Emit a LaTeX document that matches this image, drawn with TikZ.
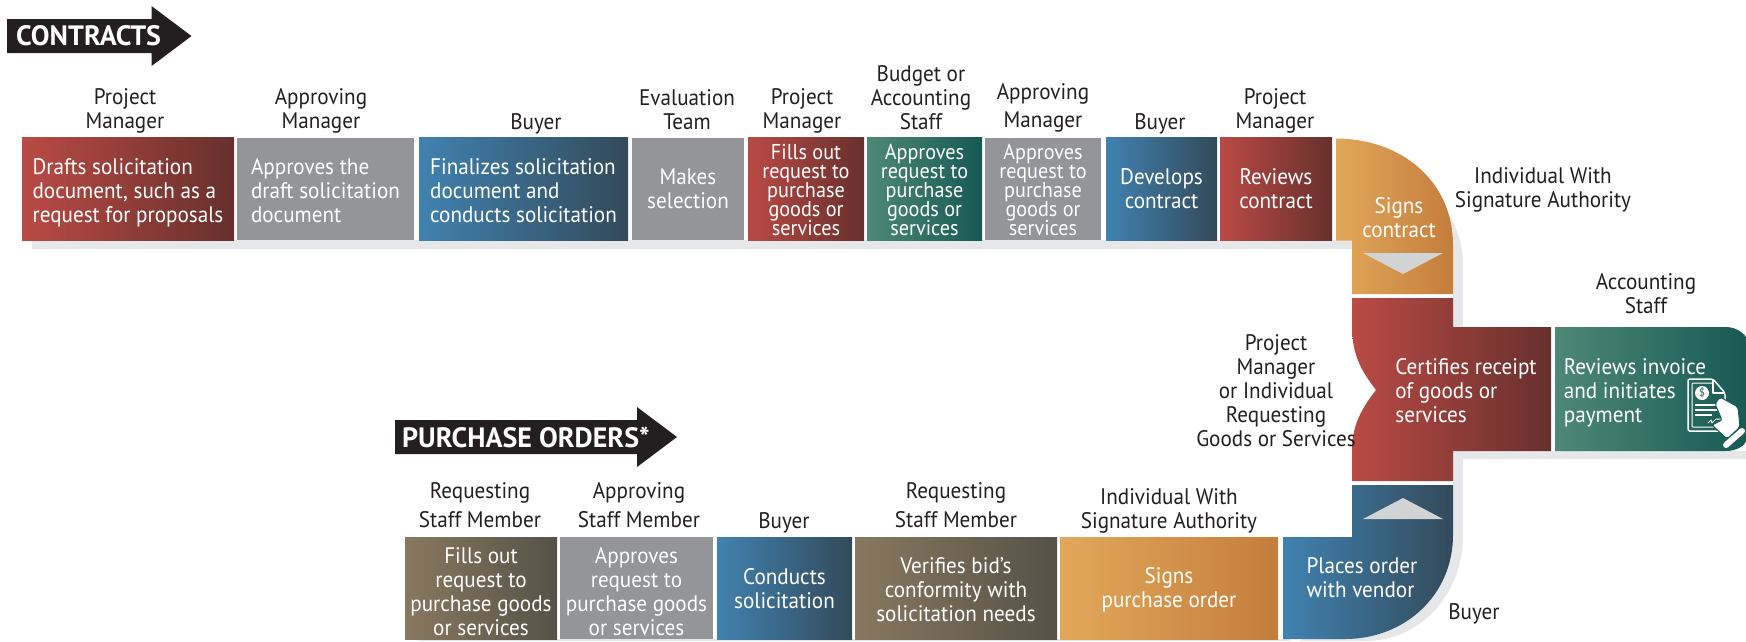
\documentclass[tikz,border=0pt]{standalone}
\usepackage{fontspec}
\setmainfont[FakeStretch=0.94]{PT Sans}
\newfontfamily\headfont{PT Sans}
\newcommand{\closelines}{\setlength{\lineskiplimit}{-20pt}}
\definecolor{redleft}{RGB}{186,74,69}
\definecolor{redright}{RGB}{103,48,44}
\definecolor{blueleft}{RGB}{64,130,176}
\definecolor{blueright}{RGB}{51,74,90}
\definecolor{tealleft}{RGB}{78,136,118}
\definecolor{tealright}{RGB}{22,90,84}
\definecolor{orangeleft}{RGB}{226,168,90}
\definecolor{orangeright}{RGB}{196,125,60}
\definecolor{brownleft}{RGB}{137,120,96}
\definecolor{brownright}{RGB}{85,82,70}
\definecolor{flatgrey}{RGB}{147,149,152}
\definecolor{shadowgrey}{RGB}{230,231,232}
\definecolor{markgrey}{RGB}{209,211,212}
\definecolor{inkblack}{RGB}{35,31,32}
\tikzset{
    stepbase/.style={rectangle, inner sep=0pt},
    redstep/.style={stepbase, left color=redleft, right color=redright},
    bluestep/.style={stepbase, left color=blueleft, right color=blueright},
    tealstep/.style={stepbase, left color=tealleft, right color=tealright},
    orangestep/.style={stepbase, left color=orangeleft, right color=orangeright},
    brownstep/.style={stepbase, left color=brownleft, right color=brownright},
    greystep/.style={stepbase, fill=flatgrey},
    who/.style={text=inkblack, align=center, inner sep=0pt, font=\fontsize{22.5}{24}\selectfont},
    title/.style={text=white, inner sep=0pt, anchor=west, font=\fontsize{28}{30}\selectfont\headfont\bfseries},
    steptext/.style={text=white, inner sep=0pt, align=center, font=\fontsize{22.5}{24}\selectfont},
    tightlines/.style={font=\fontsize{21.5}{18.9}\selectfont\closelines}
}
\begin{document}
\begin{tikzpicture}[x=1pt, y=-1pt]
    \useasboundingbox (0,0) rectangle (1746,641);

    % Drop shadows
    \fill[shadowgrey] (32,240) rectangle (1352,249);
    \fill[shadowgrey] (1395,168) .. controls (1440,190) and (1463,225) .. (1463,265)
        -- (1463,327) -- (1453,327) -- (1453,230) -- cycle;
    \fill[shadowgrey] (1453,451) -- (1746,451) -- (1746,459) -- (1463,459) -- (1463,535)
        .. controls (1463,595) and (1420,641) .. (1365,641) -- (1300,641) -- (1453,500) -- cycle;
    \fill[shadowgrey] (418,639) rectangle (1290,641);

    % Headers
    \fill[inkblack] (7,19) -- (151.5,19) -- (151.5,6) -- (191.5,36) -- (151.5,66) -- (151.5,53) -- (7,53) -- cycle;
    \node[title] (contracts) at (16,36) {CONTRACTS};
    \fill[inkblack] (395,420) -- (637,420) -- (637,407) -- (677,437) -- (637,467) -- (637,454) -- (395,454) -- cycle;
    \node[title] (orders) at (402,437) {PURCHASE ORDERS*};

    % Contracts row
    \begin{scope}[every node/.append style={minimum height=102.5pt}]
        \node[redstep, minimum width=212pt] (drafts) at (128,189.2) {};
        \node[greystep, minimum width=177pt] (approvesdraft) at (325.5,189.2) {};
        \node[bluestep, minimum width=209pt] (finalizes) at (523.5,189.2) {};
        \node[greystep, minimum width=112pt] (selection) at (688,189.2) {};
        \node[redstep, minimum width=116pt] (fillsout) at (806,189.2) {};
        \node[tealstep, minimum width=115pt] (budgetok) at (924.5,189.2) {};
        \node[greystep, minimum width=116pt] (managerok) at (1043,189.2) {};
        \node[bluestep, minimum width=111pt] (develops) at (1161.5,189.2) {};
        \node[redstep, minimum width=112pt] (reviews) at (1276,189.2) {};
    \end{scope}
    \node[steptext, align=left] (draftstext) at (128,193.2) {Drafts solicitation\\document, such as a\\request for proposals};
    \node[steptext, align=left] (approvesdrafttext) at (325.5,190.2) {Approves the\\draft solicitation\\document};
    \node[steptext, align=left] (finalizestext) at (523.5,190.5) {Finalizes solicitation\\document and\\conducts solicitation};
    \node[steptext] (selectiontext) at (688,188.7) {Makes\\selection};
    \node[steptext, tightlines] (fillsouttext) at (806,190) {Fills out\\request to\\purchase\\goods or\\services};
    \node[steptext, tightlines] (budgetoktext) at (924.5,190) {Approves\\request to\\purchase\\goods or\\services};
    \node[steptext, tightlines] (managerstext) at (1043,190) {Approves\\request to\\purchase\\goods or\\services};
    \node[steptext] (developstext) at (1161.5,188.7) {Develops\\contract};
    \node[steptext] (reviewstext) at (1276,188.7) {Reviews\\contract};

    % Purchase orders row
    \begin{scope}[every node/.append style={minimum height=102pt}]
        \node[brownstep, minimum width=152pt] (fillsoutpo) at (481,588) {};
        \node[greystep, minimum width=153pt] (approvespo) at (636.5,588) {};
        \node[bluestep, minimum width=135pt] (conducts) at (784.5,588) {};
        \node[brownstep, minimum width=202pt] (verifies) at (956,588) {};
        \node[orangestep, minimum width=218pt] (signspo) at (1169,588) {};
    \end{scope}
    \node[steptext] (fillsoutpotext) at (481,592) {Fills out\\request to\\purchase goods\\or services};
    \node[steptext] (approvespotext) at (636.5,592) {Approves\\request to\\purchase goods\\or services};
    \node[steptext] (conductstext) at (784.5,588.3) {Conducts\\solicitation};
    \node[steptext] (verifiestext) at (956,589.5) {Verifies bid’s\\conformity with\\solicitation needs};
    \node[steptext] (signspotext) at (1169,590) {Signs\\purchase order};

    % Bends on the right
    \path[left color=orangeleft, right color=orangeright] (1336,138.5) .. controls (1400,138.5) and (1453,180) .. (1453,245)
        -- (1453,294) -- (1352,294) -- (1352,240.5) -- (1336,240.5) -- cycle;
    \fill[markgrey] (1363,253) -- (1443,253) -- (1403,274) -- cycle;
    \node[steptext] (signs) at (1399,217.5) {Signs\\contract};

    \path[left color=redleft, right color=redright] (1352,298) -- (1453,298) -- (1453,327) -- (1551,327) -- (1551,451)
        -- (1453,451) -- (1453,481) -- (1352,481) -- (1352,450)
        .. controls (1352,425) and (1362,408) .. (1376,390)
        .. controls (1362,372) and (1352,355) .. (1352,327) -- cycle;
    \node[steptext, align=left] (certifies) at (1466,391) {Certifies receipt\\of goods or\\services};

    \path[left color=tealleft, right color=tealright] (1555,327) -- (1726,327) .. controls (1737,327) and (1746,335) .. (1746,338)
        -- (1746,440) .. controls (1746,445) and (1737,451) .. (1726,451) -- (1555,451) -- cycle;
    \node[steptext, align=left] (invoice) at (1635,393) {Reviews invoice\\and initiates\\payment};

    \path[left color=blueleft, right color=blueright] (1352,485) -- (1453,485) -- (1453,535)
        .. controls (1453,595) and (1405,639) .. (1345,639) -- (1283,639) -- (1283,537) -- (1352,537) -- cycle;
    \fill[markgrey] (1363,519) -- (1443,519) -- (1403,498) -- cycle;
    \node[steptext, align=left] (places) at (1362,578) {Places order\\with vendor};

    % Invoice in hand
    \begin{scope}[white, line width=1.5pt, line join=round]
        \draw[rounded corners=2pt] (1725,431) -- (1688,431) -- (1688,379) -- (1713,379) -- (1725,393) -- (1725,425);
        \draw[line width=1pt, rounded corners=1pt] (1722,427) -- (1692,427) -- (1692,383) -- (1712,383);
        \draw (1713,379) -- (1713,393) -- (1725,393);
        \fill (1702,393) circle (7);
        \draw (1695,405) -- (1718,405) (1695,410) -- (1718,410) (1695,415) -- (1712,415);
        \draw[line width=1pt] (1708,423) -- (1711,420) -- (1712,423) -- (1716,419) -- (1722,419);
        \filldraw[draw=tealright, line width=1pt, fill=white, rounded corners=2pt] (1715,404) -- (1720,397) -- (1738,407) -- (1740,427)
            -- (1727,439) -- (1712,425) -- (1722,420) -- cycle;
        \draw[line width=6pt, line cap=round] (1726,445) -- (1742,431);
    \end{scope}
    \node[font=\fontsize{11}{11}\selectfont\bfseries, text=tealleft, inner sep=0pt] (dollar) at (1702,393) {\$};

    % Who does each step
    \node[who] (whodrafts) at (125,111) {Project\\Manager};
    \node[who] (whoapproves) at (321,111) {Approving\\Manager};
    \node[who] (whofinalizes) at (536,124) {Buyer};
    \node[who] (whoselects) at (687,110) {Evaluation\\Team};
    \node[who] (whofills) at (802,111) {Project\\Manager};
    \node[who] (whobudget) at (921,98) {Budget or\\Accounting\\Staff};
    \node[who, font=\fontsize{22.5}{28.5}\selectfont] (whomanager) at (1043,108) {Approving\\Manager};
    \node[who] (whodevelops) at (1160,124) {Buyer};
    \node[who] (whoreviews) at (1275,111) {Project\\Manager};
    \node[who] (whosigns) at (1543,189.5) {Individual With\\Signature Authority};
    \node[who] (whopays) at (1646,293.5) {Accounting\\Staff};
    \node[who] (whocertifies) at (1276,391) {Project\\Manager\\or Individual\\Requesting\\Goods or Services};
    \node[who] (whoplaces) at (1474,614) {Buyer};
    \node[who, font=\fontsize{22.5}{29}\selectfont] (whorequests) at (480,505.5) {Requesting\\Staff Member};
    \node[who, font=\fontsize{22.5}{29}\selectfont] (whoapprovespo) at (639,505.5) {Approving\\Staff Member};
    \node[who] (whoconducts) at (784,523) {Buyer};
    \node[who, font=\fontsize{22.5}{29}\selectfont] (whoverifies) at (956,505.5) {Requesting\\Staff Member};
    \node[who] (whosignspo) at (1169,511) {Individual With\\Signature Authority};
\end{tikzpicture}
\end{document}
